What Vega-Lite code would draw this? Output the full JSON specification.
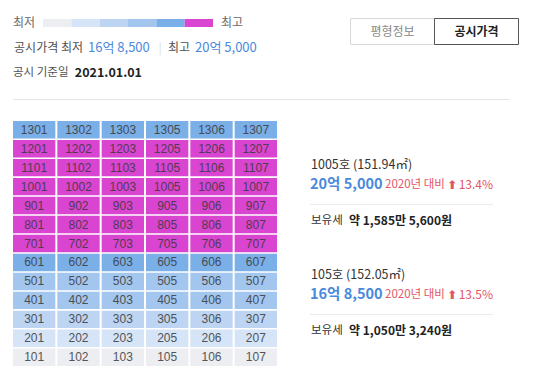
{
  "$schema": "https://vega.github.io/schema/vega-lite/v6.json",
  "width": 533,
  "height": 386,
  "padding": 0,
  "autosize": {"type": "none"},
  "background": "white",
  "config": {"view": {"stroke": null}, "font": "Noto Sans CJK KR"},
  "resolve": {"scale": {"x": "independent", "y": "independent"}},
  "layer": [
    {
      "data": {"values": [
        {"level": 1, "label": "최저"}, {"level": 2, "label": ""}, {"level": 3, "label": ""},
        {"level": 4, "label": ""}, {"level": 5, "label": ""}, {"level": 6, "label": "최고"}
      ]},
      "encoding": {
        "x": {"field": "level", "type": "ordinal", "scale": {"type": "band", "domain": [1, 2, 3, 4, 5, 6], "range": [43, 213], "paddingInner": 0, "paddingOuter": 0}, "axis": null},
        "y": {"datum": "범례", "type": "nominal", "scale": {"type": "band", "range": [19, 27], "paddingInner": 0, "paddingOuter": 0}, "axis": null}
      },
      "layer": [
        {
          "mark": {"type": "rect"},
          "encoding": {
            "color": {"field": "level", "type": "ordinal", "scale": {"domain": [1, 2, 3, 4, 5, 6], "range": ["#eceef2", "#d6e4f7", "#bdd5f2", "#a3c6ef", "#7aafe7", "#d944d0"]}, "legend": null}
          }
        },
        {
          "transform": [{"filter": "datum.level == 1"}],
          "mark": {"type": "text", "align": "right", "baseline": "middle", "dx": -8, "fontSize": 12, "color": "#6a6a6a"},
          "encoding": {"x": {"field": "level", "type": "ordinal", "bandPosition": 0}, "text": {"field": "label"}}
        },
        {
          "transform": [{"filter": "datum.level == 6"}],
          "mark": {"type": "text", "align": "left", "baseline": "middle", "dx": 8, "fontSize": 12, "color": "#6a6a6a"},
          "encoding": {"x": {"field": "level", "type": "ordinal", "bandPosition": 1}, "text": {"field": "label"}}
        }
      ]
    },
    {
      "data": {"values": [
        {"key": "최저", "label": "공시가격 최저", "price": "16억 8,500"},
        {"key": "최고", "label": "최고", "price": "20억 5,000"}
      ]},
      "encoding": {
        "x": {"field": "key", "type": "nominal", "scale": {"type": "point", "domain": ["최저", "최고"], "range": [88, 195], "padding": 0}, "axis": null},
        "y": {"datum": "공시가격", "type": "nominal", "scale": {"type": "band", "range": [40, 56], "paddingInner": 0, "paddingOuter": 0}, "axis": null}
      },
      "layer": [
        {
          "mark": {"type": "text", "align": "right", "baseline": "middle", "dx": -5, "fontSize": 12, "color": "#505050"},
          "encoding": {"text": {"field": "label"}}
        },
        {
          "mark": {"type": "text", "align": "left", "baseline": "middle", "fontSize": 13, "color": "#4a89dc"},
          "encoding": {"text": {"field": "price"}}
        },
        {
          "transform": [{"filter": "datum.key == '최고'"}],
          "mark": {"type": "text", "align": "center", "baseline": "middle", "dx": -35, "fontSize": 12, "color": "#dddddd"},
          "encoding": {"text": {"value": "|"}}
        }
      ]
    },
    {
      "data": {"values": [{"label": "공시 기준일", "date": "2021.01.01"}]},
      "encoding": {
        "x": {"field": "label", "type": "nominal", "scale": {"type": "band", "range": [13, 142], "paddingInner": 0, "paddingOuter": 0}, "axis": null},
        "y": {"datum": "기준일", "type": "nominal", "scale": {"type": "band", "range": [65, 81], "paddingInner": 0, "paddingOuter": 0}, "axis": null}
      },
      "layer": [
        {
          "mark": {"type": "text", "align": "left", "baseline": "middle", "fontSize": 11.5, "color": "#505050"},
          "encoding": {"x": {"field": "label", "type": "nominal", "bandPosition": 0}, "text": {"field": "label"}}
        },
        {
          "mark": {"type": "text", "align": "right", "baseline": "middle", "fontSize": 12.5, "fontWeight": "bold", "color": "#222"},
          "encoding": {"x": {"field": "label", "type": "nominal", "bandPosition": 1}, "text": {"field": "date"}}
        }
      ]
    },
    {
      "data": {"values": [{"tab": "평형정보", "selected": false}, {"tab": "공시가격", "selected": true}]},
      "encoding": {
        "x": {"field": "tab", "type": "nominal", "scale": {"type": "band", "domain": ["평형정보", "공시가격"], "range": [350.5, 518.5], "paddingInner": 0, "paddingOuter": 0}, "axis": null},
        "y": {"datum": "탭", "type": "nominal", "scale": {"type": "band", "range": [18.5, 44.5], "paddingInner": 0, "paddingOuter": 0}, "axis": null}
      },
      "layer": [
        {
          "mark": {"type": "rect", "fill": "white", "strokeWidth": 1},
          "encoding": {"stroke": {"field": "selected", "type": "nominal", "scale": {"domain": [false, true], "range": ["#d8d8d8", "#555555"]}, "legend": null}}
        },
        {
          "transform": [{"filter": "!datum.selected"}],
          "mark": {"type": "text", "align": "center", "baseline": "middle", "fontSize": 12, "color": "#888"},
          "encoding": {"text": {"field": "tab"}}
        },
        {
          "transform": [{"filter": "datum.selected"}],
          "mark": {"type": "text", "align": "center", "baseline": "middle", "fontSize": 12, "fontWeight": "bold", "color": "#222"},
          "encoding": {"text": {"field": "tab"}}
        }
      ]
    },
    {
      "data": {"values": [{"section": "헤더"}]},
      "mark": {"type": "rule", "color": "#e6e6e6", "strokeWidth": 1},
      "encoding": {
        "x": {"datum": 0, "type": "quantitative", "scale": {"domain": [0, 1], "range": [13, 510]}, "axis": null},
        "x2": {"datum": 1},
        "y": {"datum": "구분선", "type": "nominal", "scale": {"type": "band", "range": [99, 100], "paddingInner": 0, "paddingOuter": 0}, "axis": null}
      }
    },
    {
      "data": {"values": [
        {"floor": 13, "line": "01", "unit": "1301", "level": 5}, {"floor": 13, "line": "02", "unit": "1302", "level": 5}, {"floor": 13, "line": "03", "unit": "1303", "level": 5}, {"floor": 13, "line": "05", "unit": "1305", "level": 5}, {"floor": 13, "line": "06", "unit": "1306", "level": 5}, {"floor": 13, "line": "07", "unit": "1307", "level": 5},
        {"floor": 12, "line": "01", "unit": "1201", "level": 6}, {"floor": 12, "line": "02", "unit": "1202", "level": 6}, {"floor": 12, "line": "03", "unit": "1203", "level": 6}, {"floor": 12, "line": "05", "unit": "1205", "level": 6}, {"floor": 12, "line": "06", "unit": "1206", "level": 6}, {"floor": 12, "line": "07", "unit": "1207", "level": 6},
        {"floor": 11, "line": "01", "unit": "1101", "level": 6}, {"floor": 11, "line": "02", "unit": "1102", "level": 6}, {"floor": 11, "line": "03", "unit": "1103", "level": 6}, {"floor": 11, "line": "05", "unit": "1105", "level": 6}, {"floor": 11, "line": "06", "unit": "1106", "level": 6}, {"floor": 11, "line": "07", "unit": "1107", "level": 6},
        {"floor": 10, "line": "01", "unit": "1001", "level": 6}, {"floor": 10, "line": "02", "unit": "1002", "level": 6}, {"floor": 10, "line": "03", "unit": "1003", "level": 6}, {"floor": 10, "line": "05", "unit": "1005", "level": 6}, {"floor": 10, "line": "06", "unit": "1006", "level": 6}, {"floor": 10, "line": "07", "unit": "1007", "level": 6},
        {"floor": 9, "line": "01", "unit": "901", "level": 6}, {"floor": 9, "line": "02", "unit": "902", "level": 6}, {"floor": 9, "line": "03", "unit": "903", "level": 6}, {"floor": 9, "line": "05", "unit": "905", "level": 6}, {"floor": 9, "line": "06", "unit": "906", "level": 6}, {"floor": 9, "line": "07", "unit": "907", "level": 6},
        {"floor": 8, "line": "01", "unit": "801", "level": 6}, {"floor": 8, "line": "02", "unit": "802", "level": 6}, {"floor": 8, "line": "03", "unit": "803", "level": 6}, {"floor": 8, "line": "05", "unit": "805", "level": 6}, {"floor": 8, "line": "06", "unit": "806", "level": 6}, {"floor": 8, "line": "07", "unit": "807", "level": 6},
        {"floor": 7, "line": "01", "unit": "701", "level": 6}, {"floor": 7, "line": "02", "unit": "702", "level": 6}, {"floor": 7, "line": "03", "unit": "703", "level": 6}, {"floor": 7, "line": "05", "unit": "705", "level": 6}, {"floor": 7, "line": "06", "unit": "706", "level": 6}, {"floor": 7, "line": "07", "unit": "707", "level": 6},
        {"floor": 6, "line": "01", "unit": "601", "level": 5}, {"floor": 6, "line": "02", "unit": "602", "level": 5}, {"floor": 6, "line": "03", "unit": "603", "level": 5}, {"floor": 6, "line": "05", "unit": "605", "level": 5}, {"floor": 6, "line": "06", "unit": "606", "level": 5}, {"floor": 6, "line": "07", "unit": "607", "level": 5},
        {"floor": 5, "line": "01", "unit": "501", "level": 4}, {"floor": 5, "line": "02", "unit": "502", "level": 4}, {"floor": 5, "line": "03", "unit": "503", "level": 4}, {"floor": 5, "line": "05", "unit": "505", "level": 4}, {"floor": 5, "line": "06", "unit": "506", "level": 4}, {"floor": 5, "line": "07", "unit": "507", "level": 4},
        {"floor": 4, "line": "01", "unit": "401", "level": 4}, {"floor": 4, "line": "02", "unit": "402", "level": 4}, {"floor": 4, "line": "03", "unit": "403", "level": 4}, {"floor": 4, "line": "05", "unit": "405", "level": 4}, {"floor": 4, "line": "06", "unit": "406", "level": 4}, {"floor": 4, "line": "07", "unit": "407", "level": 4},
        {"floor": 3, "line": "01", "unit": "301", "level": 3}, {"floor": 3, "line": "02", "unit": "302", "level": 3}, {"floor": 3, "line": "03", "unit": "303", "level": 3}, {"floor": 3, "line": "05", "unit": "305", "level": 3}, {"floor": 3, "line": "06", "unit": "306", "level": 3}, {"floor": 3, "line": "07", "unit": "307", "level": 3},
        {"floor": 2, "line": "01", "unit": "201", "level": 2}, {"floor": 2, "line": "02", "unit": "202", "level": 2}, {"floor": 2, "line": "03", "unit": "203", "level": 2}, {"floor": 2, "line": "05", "unit": "205", "level": 2}, {"floor": 2, "line": "06", "unit": "206", "level": 2}, {"floor": 2, "line": "07", "unit": "207", "level": 2},
        {"floor": 1, "line": "01", "unit": "101", "level": 1}, {"floor": 1, "line": "02", "unit": "102", "level": 1}, {"floor": 1, "line": "03", "unit": "103", "level": 1}, {"floor": 1, "line": "05", "unit": "105", "level": 1}, {"floor": 1, "line": "06", "unit": "106", "level": 1}, {"floor": 1, "line": "07", "unit": "107", "level": 1}
      ]},
      "encoding": {
        "x": {"field": "line", "type": "nominal", "scale": {"type": "band", "domain": ["01", "02", "03", "05", "06", "07"], "range": [13, 277], "paddingInner": 0.045, "paddingOuter": 0}, "axis": null},
        "y": {"field": "floor", "type": "ordinal", "scale": {"type": "band", "domain": [13, 12, 11, 10, 9, 8, 7, 6, 5, 4, 3, 2, 1], "range": [121, 366], "paddingInner": 0.08, "paddingOuter": 0}, "axis": null}
      },
      "layer": [
        {
          "mark": {"type": "rect"},
          "encoding": {"color": {"field": "level", "type": "ordinal", "legend": null}}
        },
        {
          "mark": {"type": "text", "align": "center", "baseline": "middle", "font": "Liberation Sans", "fontSize": 12, "color": "#3a3a3a", "opacity": 0.85},
          "encoding": {"text": {"field": "unit"}}
        }
      ]
    },
    {
      "data": {"values": [
        {"rank": "최고", "unit": "1005호 (151.94㎡)", "price": "20억 5,000", "base": "2020년 대비", "change": "13.4%", "tax": "약 1,585만 5,600원"},
        {"rank": "최저", "unit": "105호 (152.05㎡)", "price": "16억 8,500", "base": "2020년 대비", "change": "13.5%", "tax": "약 1,050만 3,240원"}
      ]},
      "encoding": {
        "x": {"datum": 0, "type": "quantitative", "scale": {"domain": [0, 1], "range": [310, 493]}, "axis": null},
        "y": {"field": "rank", "type": "nominal", "scale": {"type": "band", "domain": ["최고", "최저"], "range": [130, 350], "paddingInner": 0, "paddingOuter": 0}, "axis": null}
      },
      "layer": [
        {
          "mark": {"type": "text", "align": "left", "baseline": "middle", "dx": 1, "dy": -20, "fontSize": 12.5, "color": "#333"},
          "encoding": {"text": {"field": "unit"}}
        },
        {
          "mark": {"type": "text", "align": "left", "baseline": "middle", "fontSize": 14.5, "fontWeight": "bold", "color": "#4a89dc"},
          "encoding": {"text": {"field": "price"}}
        },
        {
          "mark": {"type": "text", "align": "left", "baseline": "middle", "dx": 75, "fontSize": 11.5, "color": "#e25563"},
          "encoding": {"text": {"field": "base"}}
        },
        {
          "mark": {"type": "text", "align": "center", "baseline": "middle", "dx": -41, "fontSize": 12, "fontWeight": "bold", "font": "DejaVu Sans", "color": "#e25563"},
          "encoding": {"x": {"datum": 1, "type": "quantitative"}, "text": {"value": "⬆"}}
        },
        {
          "mark": {"type": "text", "align": "right", "baseline": "middle", "fontSize": 12, "color": "#e25563"},
          "encoding": {"x": {"datum": 1, "type": "quantitative"}, "text": {"field": "change"}}
        },
        {
          "mark": {"type": "rule", "color": "#ebebeb", "strokeWidth": 1, "yOffset": 19.5},
          "encoding": {"x2": {"datum": 1}}
        },
        {
          "mark": {"type": "text", "align": "left", "baseline": "middle", "dx": 1, "dy": 36, "fontSize": 11.5, "color": "#333"},
          "encoding": {"text": {"value": "보유세"}}
        },
        {
          "mark": {"type": "text", "align": "left", "baseline": "middle", "dx": 39, "dy": 36, "fontSize": 12, "fontWeight": "bold", "color": "#222"},
          "encoding": {"text": {"field": "tax"}}
        }
      ]
    }
  ]
}
